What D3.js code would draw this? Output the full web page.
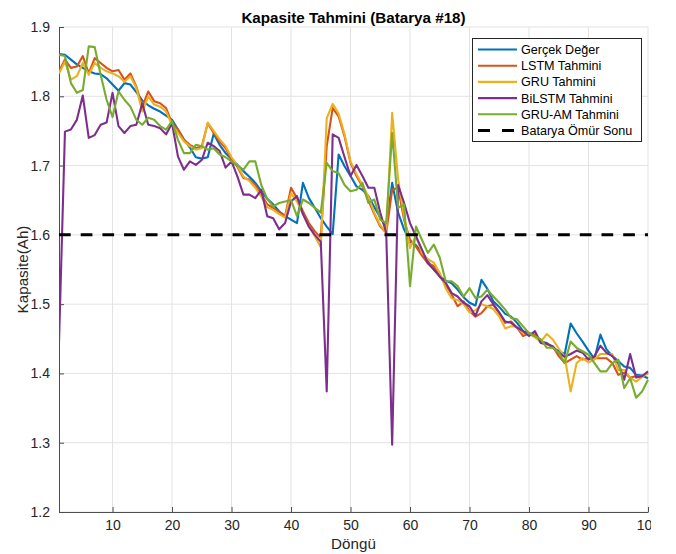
<!DOCTYPE html>
<html>
<head>
<meta charset="utf-8">
<script src="https://cdn.jsdelivr.net/npm/d3@7"></script>
<style>
  html, body { margin: 0; padding: 0; background: #fff; }
  svg { display: block; font-family: "Liberation Sans", Arial, Helvetica, sans-serif; }
</style>
</head>
<body>
<svg id="chart" width="676" height="554"></svg>
<script>
const titleText = "Kapasite Tahmini (Batarya #18)";
const xLabel = "Döngü";
const yLabel = "Kapasite(Ah)";
const xTicks = [10, 20, 30, 40, 50, 60, 70, 80, 90, 100];
const yTicks = [1.2, 1.3, 1.4, 1.5, 1.6, 1.7, 1.8, 1.9];
const eolValue = 1.6;

const seriesNames = ["Gerçek Değer", "LSTM Tahmini", "GRU Tahmini", "BiLSTM Tahmini", "GRU-AM Tahmini"];
const eolName = "Batarya Ömür Sonu";
const seriesColors = ["#0072BD", "#D95319", "#EDB120", "#7E2F8E", "#77AC30"];

const gercek = [1.861,1.860,1.853,1.846,1.841,1.836,1.833,1.832,1.826,1.817,
1.808,1.819,1.817,1.806,1.794,1.787,1.782,1.778,1.772,1.766,
1.752,1.738,1.726,1.712,1.710,1.712,1.746,1.730,1.718,1.709,
1.701,1.692,1.684,1.675,1.663,1.652,1.644,1.634,1.627,1.622,
1.617,1.675,1.653,1.639,1.624,1.612,1.601,1.716,1.699,1.685,
1.670,1.665,1.656,1.640,1.625,1.610,1.675,1.632,1.608,1.590,
1.585,1.574,1.562,1.550,1.540,1.534,1.530,1.521,1.510,1.502,
1.498,1.535,1.522,1.504,1.496,1.486,1.482,1.473,1.461,1.458,
1.454,1.446,1.444,1.437,1.432,1.428,1.472,1.458,1.446,1.433,
1.421,1.456,1.435,1.425,1.418,1.410,1.408,1.398,1.397,1.393];

const lstm = [1.836,1.853,1.841,1.843,1.858,1.833,1.855,1.848,1.841,1.836,
1.838,1.824,1.833,1.814,1.785,1.807,1.793,1.790,1.783,1.761,
1.752,1.737,1.730,1.725,1.728,1.761,1.747,1.735,1.725,1.709,
1.698,1.682,1.680,1.672,1.658,1.644,1.639,1.633,1.627,1.668,
1.653,1.634,1.617,1.605,1.596,1.728,1.783,1.771,1.742,1.704,
1.685,1.670,1.650,1.630,1.612,1.603,1.665,1.668,1.622,1.593,
1.583,1.570,1.559,1.555,1.540,1.528,1.514,1.497,1.504,1.490,
1.482,1.487,1.497,1.499,1.487,1.473,1.475,1.466,1.454,1.458,
1.456,1.444,1.442,1.439,1.425,1.415,1.420,1.425,1.420,1.422,
1.422,1.422,1.422,1.415,1.398,1.401,1.394,1.396,1.396,1.401];

const gru = [1.833,1.850,1.824,1.829,1.848,1.831,1.848,1.841,1.836,1.833,
1.829,1.821,1.829,1.812,1.778,1.800,1.788,1.785,1.778,1.759,
1.747,1.735,1.728,1.723,1.725,1.762,1.750,1.738,1.728,1.712,
1.700,1.684,1.678,1.668,1.655,1.640,1.636,1.630,1.625,1.660,
1.648,1.630,1.612,1.598,1.582,1.768,1.789,1.775,1.745,1.706,
1.688,1.672,1.655,1.632,1.614,1.603,1.776,1.680,1.627,1.581,
1.598,1.574,1.565,1.560,1.545,1.523,1.508,1.506,1.500,1.488,
1.491,1.500,1.497,1.493,1.482,1.465,1.468,1.467,1.458,1.457,
1.452,1.446,1.457,1.449,1.436,1.424,1.374,1.415,1.422,1.416,
1.420,1.428,1.428,1.428,1.405,1.405,1.394,1.388,1.395,1.400];

const bilstm = [1.444,1.749,1.752,1.766,1.801,1.740,1.744,1.759,1.762,1.805,
1.757,1.747,1.757,1.759,1.790,1.759,1.757,1.754,1.745,1.761,
1.713,1.694,1.706,1.701,1.708,1.733,1.728,1.721,1.697,1.706,
1.684,1.658,1.658,1.653,1.665,1.627,1.624,1.608,1.617,1.648,
1.656,1.630,1.612,1.600,1.590,1.374,1.745,1.740,1.712,1.685,
1.701,1.685,1.668,1.668,1.632,1.603,1.297,1.672,1.646,1.617,
1.598,1.579,1.559,1.550,1.540,1.531,1.516,1.511,1.502,1.497,
1.483,1.504,1.513,1.500,1.488,1.475,1.473,1.466,1.461,1.454,
1.461,1.444,1.443,1.439,1.430,1.424,1.428,1.433,1.430,1.420,
1.425,1.440,1.430,1.425,1.415,1.391,1.428,1.394,1.396,1.403];

const gruam = [1.860,1.858,1.819,1.805,1.809,1.872,1.871,1.831,1.795,1.770,
1.807,1.795,1.785,1.766,1.759,1.769,1.766,1.757,1.752,1.764,
1.737,1.718,1.718,1.730,1.728,1.723,1.725,1.716,1.712,1.706,
1.700,1.694,1.706,1.706,1.672,1.652,1.641,1.646,1.648,1.650,
1.627,1.651,1.646,1.639,1.632,1.704,1.692,1.689,1.672,1.663,
1.665,1.675,1.646,1.651,1.622,1.617,1.747,1.639,1.644,1.526,
1.612,1.593,1.574,1.586,1.567,1.533,1.533,1.526,1.511,1.523,
1.509,1.511,1.521,1.511,1.502,1.492,1.480,1.478,1.468,1.458,
1.454,1.449,1.437,1.437,1.430,1.415,1.446,1.437,1.432,1.427,
1.415,1.403,1.403,1.415,1.420,1.379,1.393,1.365,1.374,1.391];

const allSeries = [gercek, lstm, gru, bilstm, gruam];

const svg = d3.select("#chart");
const pLeft = 59, pRight = 648, pTop = 27, pBottom = 512;

const defs = svg.append("defs");
defs.append("clipPath").attr("id", "crop")
  .append("rect").attr("x", 0).attr("y", 0).attr("width", 651).attr("height", 554);
defs.append("clipPath").attr("id", "plotclip")
  .append("rect").attr("x", pLeft).attr("y", pTop - 2).attr("width", pRight - pLeft + 2).attr("height", pBottom - pTop + 4);

const root = svg.append("g").attr("clip-path", "url(#crop)");

const x = d3.scaleLinear().domain([1, 100]).range([pLeft, pRight]);
const y = d3.scaleLinear().domain([1.2, 1.9]).range([pBottom, pTop]);

// grid
const grid = root.append("g");
grid.selectAll("line.gx").data(xTicks).join("line").attr("class", "gx")
  .attr("x1", d => x(d)).attr("x2", d => x(d))
  .attr("y1", pTop).attr("y2", pBottom)
  .attr("stroke", "#e3e3e3").attr("stroke-width", 1);
grid.selectAll("line.gy").data(yTicks).join("line").attr("class", "gy")
  .attr("x1", pLeft).attr("x2", pRight)
  .attr("y1", d => y(d)).attr("y2", d => y(d))
  .attr("stroke", "#e3e3e3").attr("stroke-width", 1);

// axes
const xAxis = d3.axisBottom(x).tickValues(xTicks).tickSizeInner(-5).tickSizeOuter(0).tickPadding(8).tickFormat(d3.format("d"));
const yAxis = d3.axisLeft(y).tickValues(yTicks).tickSizeInner(-5).tickSizeOuter(0).tickPadding(9).tickFormat(d3.format(".1f"));

const gx = root.append("g").attr("transform", `translate(0,${pBottom})`).call(xAxis);
const gy = root.append("g").attr("transform", `translate(${pLeft},0)`).call(yAxis);
[gx, gy].forEach(g => {
  g.select(".domain").attr("stroke", "#4d4d4d").attr("stroke-width", 1);
  g.selectAll(".tick line").attr("stroke", "#4d4d4d");
  g.selectAll(".tick text").attr("fill", "#262626").attr("font-size", 14)
    .attr("font-family", "'Liberation Sans', Arial, sans-serif");
});

// series
const line = d3.line().x((d, i) => x(i + 1)).y(d => y(d));
const plot = root.append("g").attr("clip-path", "url(#plotclip)");
allSeries.forEach((s, k) => {
  plot.append("path").datum(s).attr("d", line)
    .attr("fill", "none").attr("stroke", seriesColors[k])
    .attr("stroke-width", 2.1).attr("stroke-linejoin", "round");
});

// end-of-life line
plot.append("line")
  .attr("x1", x(1)).attr("x2", x(100))
  .attr("y1", y(eolValue)).attr("y2", y(eolValue))
  .attr("stroke", "#000").attr("stroke-width", 3)
  .attr("stroke-dasharray", "11.7,10");

// title & labels
root.append("text").attr("x", (pLeft + pRight) / 2).attr("y", 22.5)
  .attr("text-anchor", "middle").attr("font-weight", "bold").attr("font-size", 15.2)
  .attr("fill", "#000").text(titleText);
root.append("text").attr("x", (pLeft + pRight) / 2).attr("y", 548.5)
  .attr("text-anchor", "middle").attr("font-size", 15.2).attr("fill", "#262626").text(xLabel);
root.append("text").attr("transform", `translate(27.5,${(pTop + pBottom) / 2}) rotate(-90)`)
  .attr("text-anchor", "middle").attr("font-size", 15.2).attr("fill", "#262626").text(yLabel);

// legend
const lg = root.append("g");
lg.append("rect").attr("x", 472.5).attr("y", 38.5).attr("width", 169).attr("height", 103)
  .attr("fill", "#fff").attr("stroke", "#262626").attr("stroke-width", 1);
const legendItems = seriesNames.map((n, k) => ({ name: n, color: seriesColors[k], dash: null }))
  .concat([{ name: eolName, color: "#000", dash: "11.7,10" }]);
legendItems.forEach((it, k) => {
  const yy = 49.5 + k * 16.2;
  lg.append("line").attr("x1", 478).attr("x2", 517).attr("y1", yy).attr("y2", yy)
    .attr("stroke", it.color).attr("stroke-width", it.dash ? 3 : 2.1)
    .attr("stroke-dasharray", it.dash ? "12,12" : null);
  lg.append("text").attr("x", 521).attr("y", yy + 4.5).attr("font-size", 12.6)
    .attr("fill", "#000").text(it.name);
});
</script>
</body>
</html>
